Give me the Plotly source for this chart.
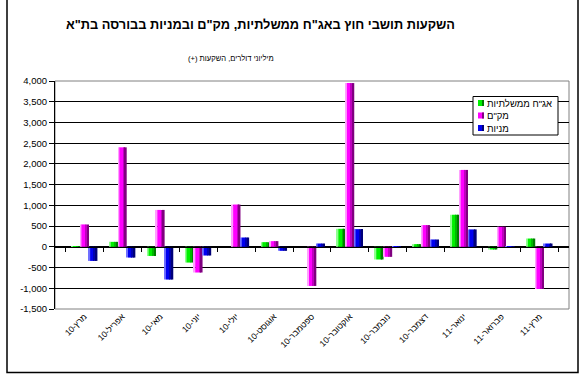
import plotly.graph_objects as go

categories = ["מרץ-10", "אפריל-10", "מאי-10", "יוני-10", "יולי-10", "אוגוסט-10",
              "ספטמבר-10", "אוקטובר-10", "נובמבר-10", "דצמבר-10", "ינואר-11",
              "פברואר-11", "מרץ-11"]
gov_bonds = [-20, 120, -220, -380, 0, 113, 0, 435, -306, 65, 774, -65, 200]
makam = [540, 2400, 890, -620, 1020, 137, -944, 3950, -242, 524, 1855, 484, -1016]
stocks = [-340, -260, -790, -210, 225, -97, 80, 427, -20, 177, 420, -20, 80]
series_names = ['אג"ח ממשלתיות', 'מק"ם', 'מניות']
y_tickvals = [-1500, -1000, -500, 0, 500, 1000, 1500, 2000, 2500, 3000, 3500, 4000]
y_ticktext = ["-1,500", "-1,000", "-500", "0", "500", "1,000", "1,500", "2,000",
              "2,500", "3,000", "3,500", "4,000"]

title = 'השקעות תושבי חוץ באג"ח ממשלתיות, מק"ם ובמניות בבורסה בת"א'
subtitle = "(+) מיליוני דולרים, השקעות"

W, H = 583, 379
L, R, T, B = 55, 14, 81, 70
pw, ph = W - L - R, H - T - B
ymin, ymax = -1500, 4000

def px(x):
    return (x - L) / pw

def py(y):
    return (H - B - y) / ph

font = "Arial, Liberation Sans, sans-serif"
# shading strips (light edge, main, mid, dark) for a cylinder-like look
shades = [
    ["#90ff90", "#00f000", "#00b800", "#007c00"],
    ["#ffa0ff", "#ff00ff", "#c000c0", "#800080"],
    ["#7070ff", "#0000f0", "#0000b0", "#000078"],
]
strips = [(0.0, 0.15), (0.15, 0.6), (0.6, 0.8), (0.8, 1.0)]
bw = 0.228

fig = go.Figure()
for si, (name, vals) in enumerate(zip(series_names, [gov_bonds, makam, stocks])):
    start = (si - 1.5) * bw
    for (a, b), c in zip(strips, shades[si]):
        fig.add_trace(go.Bar(x=categories, y=vals, name=name, showlegend=False,
                             offset=start + a * bw, width=(b - a) * bw,
                             marker=dict(color=c, line=dict(width=0))))

# helper trace for the category axis drawn at zero
fig.add_trace(go.Scatter(x=categories, y=[0] * len(categories), xaxis="x2",
                         mode="markers", marker=dict(opacity=0), showlegend=False,
                         hoverinfo="skip"))

zero_pos = (0 - ymin) / (ymax - ymin)

shapes = [
    dict(type="rect", xref="paper", yref="paper", x0=0, x1=1, y0=0, y1=1,
         line=dict(color="#808080", width=1), layer="below"),
    dict(type="rect", xref="paper", yref="paper", x0=px(7), x1=px(578),
         y0=py(372.5), y1=py(-2), line=dict(color="black", width=1.5)),
    dict(type="rect", xref="paper", yref="paper", x0=px(473), x1=px(558),
         y0=py(135), y1=py(96.5), line=dict(color="black", width=1),
         fillcolor="white", layer="above"),
]
annotations = [
    dict(text="<b>" + title + "</b>", xref="paper", yref="paper", x=px(260), y=py(25),
         xanchor="center", yanchor="middle", showarrow=False,
         font=dict(size=12.8, family=font, color="black")),
    dict(text=subtitle, xref="paper", yref="paper", x=px(231), y=py(58),
         xanchor="center", yanchor="middle", showarrow=False,
         font=dict(size=7.6, family=font, color="black")),
]
legend_rows = [103, 115.5, 128]
for si, name in enumerate(series_names):
    yc = legend_rows[si]
    shapes.append(dict(type="rect", xref="paper", yref="paper",
                       x0=px(478), x1=px(484), y0=py(yc + 3), y1=py(yc - 3),
                       line=dict(width=0), fillcolor=shades[si][1], layer="above"))
    shapes.append(dict(type="rect", xref="paper", yref="paper",
                       x0=px(482), x1=px(484), y0=py(yc + 3), y1=py(yc - 3),
                       line=dict(width=0), fillcolor=shades[si][3], layer="above"))
    annotations.append(dict(text=name, xref="paper", yref="paper", x=px(485), y=py(yc),
                            xanchor="left", yanchor="middle", showarrow=False,
                            font=dict(size=9.5, family=font, color="black")))

fig.update_layout(
    width=W, height=H,
    margin=dict(l=L, r=R, t=T, b=B, autoexpand=False),
    paper_bgcolor="white", plot_bgcolor="white",
    font=dict(family=font, size=10, color="black"),
    barmode="overlay",
    showlegend=False,
    xaxis=dict(type="category", showline=False, ticks="", showgrid=False,
               tickangle=-45, tickfont=dict(size=8.5, family=font), zeroline=False,
               automargin=False),
    xaxis2=dict(type="category", matches="x", overlaying="x", anchor="free",
                position=zero_pos, showline=True, linecolor="black", linewidth=1,
                ticks="outside", ticklen=4, tickcolor="black", tickson="boundaries",
                showticklabels=False, showgrid=False, zeroline=False),
    yaxis=dict(range=[ymin, ymax], tickvals=y_tickvals, ticktext=y_ticktext,
               showgrid=True, gridcolor="black", gridwidth=1,
               showline=True, linecolor="black", linewidth=1,
               ticks="outside", ticklen=5, tickcolor="black",
               zeroline=True, zerolinecolor="black", zerolinewidth=1,
               tickfont=dict(size=9.5, family=font), automargin=False),
    shapes=shapes,
    annotations=annotations,
)

fig.write_html("out.html", config={"displayModeBar": False},
               post_script="document.body.style.margin='0';")
